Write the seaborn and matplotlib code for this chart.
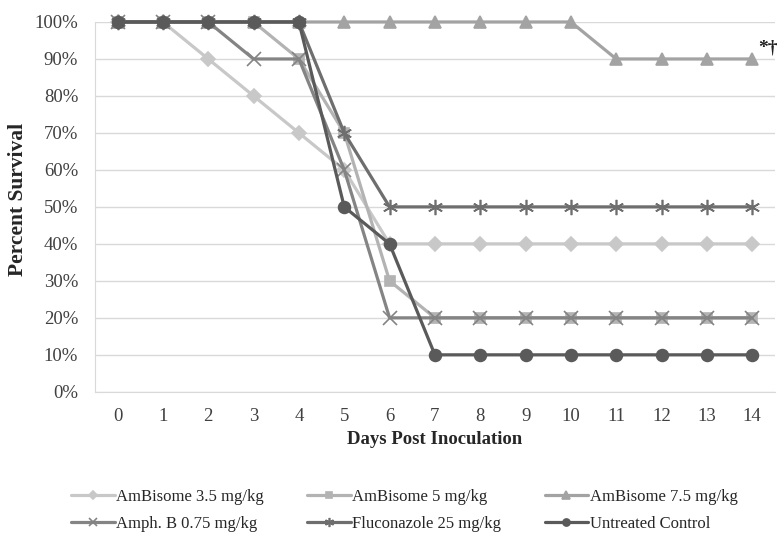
import numpy as np
import pandas as pd
import seaborn as sns
import matplotlib.pyplot as plt

sns.set_style("white")
plt.rcParams['font.family'] = ['Liberation Serif', 'DejaVu Serif']

days = list(range(15))
ambisome_35 = [100, 100, 90, 80, 70, 60, 40, 40, 40, 40, 40, 40, 40, 40, 40]
ambisome_5 = [100, 100, 100, 100, 90, 70, 30, 20, 20, 20, 20, 20, 20, 20, 20]
ambisome_75 = [100, 100, 100, 100, 100, 100, 100, 100, 100, 100, 100, 90, 90, 90, 90]
amph_b = [100, 100, 100, 90, 90, 60, 20, 20, 20, 20, 20, 20, 20, 20, 20]
fluconazole = [100, 100, 100, 100, 100, 70, 50, 50, 50, 50, 50, 50, 50, 50, 50]
untreated = [100, 100, 100, 100, 100, 50, 40, 10, 10, 10, 10, 10, 10, 10, 10]

series = [
    ("AmBisome 3.5 mg/kg", ambisome_35, "#c8c8c8", "D", 7),
    ("AmBisome 5 mg/kg", ambisome_5, "#b3b3b3", "s", 7),
    ("AmBisome 7.5 mg/kg", ambisome_75, "#a3a3a3", "^", 8.5),
    ("Amph. B 0.75 mg/kg", amph_b, "#848484", "x", 10),
    ("Fluconazole 25 mg/kg", fluconazole, "#6e6e6e", (6, 2, 0), 11),
    ("Untreated Control", untreated, "#5a5a5a", "o", 8.5),
]

fig = plt.figure(figsize=(7.78, 5.36), dpi=100)
ax = fig.add_axes([0.122, 0.269, 0.874, 0.69])

for name, vals, col, mk, ms in series:
    df = pd.DataFrame({"day": days, "surv": vals})
    sns.lineplot(data=df, x="day", y="surv", ax=ax, color=col, lw=2.3,
                 marker=mk, markersize=ms, markeredgecolor=col,
                 markeredgewidth=1.2, label=name, clip_on=False, zorder=3)

ax.set_xlim(-0.5, 14.5)
ax.set_ylim(0, 100)
ax.set_xticks(days)
ax.set_yticks(range(0, 101, 10))
ax.set_yticklabels([f"{v}%" for v in range(0, 101, 10)])
ax.tick_params(axis='both', labelsize=13.5, colors="#404040", length=0)
ax.tick_params(axis='y', pad=12)
ax.tick_params(axis='x', pad=12)
ax.grid(axis='y', color="#d9d9d9", lw=1)
ax.set_axisbelow(True)
for s in ["top", "right"]:
    ax.spines[s].set_visible(False)
for s in ["left", "bottom"]:
    ax.spines[s].set_color("#d9d9d9")
ax.set_xlabel("Days Post Inoculation", fontsize=13.5, fontweight="bold")
ax.set_ylabel("Percent Survival", fontsize=15.5, fontweight="bold")
ax.xaxis.set_label_coords(0.5, -0.106)
ax.yaxis.set_label_coords(-0.098, 0.52)

ax.annotate("*\u2020", xy=(14, 90), xytext=(4, 5), textcoords="offset points",
            fontsize=14, color="#202020", fontweight="bold")

handles, labels = ax.get_legend_handles_labels()
ax.get_legend().remove()
order = [0, 3, 1, 4, 2, 5]
leg = fig.legend([handles[i] for i in order], [labels[i] for i in order],
                 loc="lower center", bbox_to_anchor=(0.52, -0.02), ncol=3,
                 frameon=False, fontsize=12, handlelength=2.6,
                 handletextpad=0.1, columnspacing=2.6, markerscale=0.6,
                 labelspacing=0.65)

fig.savefig("out.png", dpi=100)
